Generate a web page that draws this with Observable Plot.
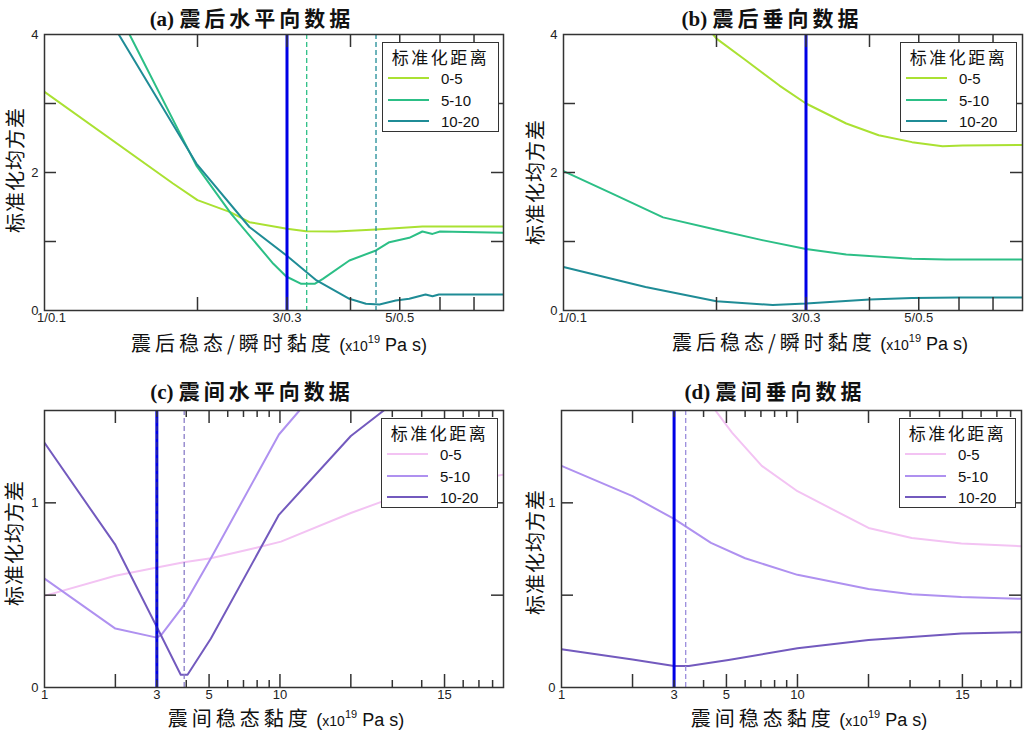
<!DOCTYPE html>
<html><head><meta charset="utf-8">
<script src="https://cdn.jsdelivr.net/npm/d3@7"></script>
<script src="https://cdn.jsdelivr.net/npm/@observablehq/plot@0.6"></script>
<style>
body{margin:0;background:#fff;}
#root{position:relative;width:1024px;height:733px;overflow:hidden;background:#fff;}
.panel{position:absolute;}
.title{position:absolute;white-space:nowrap;transform:translate(-50%,-50%);font-family:"Liberation Serif","Noto Sans CJK SC",serif;font-weight:bold;font-size:21px;line-height:22px;color:#111;}
.title .zh{font-family:"Noto Sans CJK SC",sans-serif;letter-spacing:4px;}
.xlab{position:absolute;white-space:nowrap;transform:translate(-50%,-50%);font-family:"Noto Sans CJK SC",sans-serif;font-size:20px;line-height:16px;color:#111;}
.xlab .zh{letter-spacing:4px;}
.xlab .u{font-family:"Liberation Sans",Arial,sans-serif;font-size:18px;}
.xlab .s{font-size:14px;}
.xlab sup{font-size:11px;vertical-align:8px;line-height:0;}
.ylab{position:absolute;white-space:nowrap;transform:translate(-50%,-50%) rotate(-90deg);font-family:"Noto Sans CJK SC",sans-serif;font-size:20px;line-height:20px;letter-spacing:1px;color:#111;}
.legend{position:absolute;width:115px;height:88px;border:1.5px solid #333;background:#fff;}
.legend .lt{position:absolute;left:0;width:100%;text-align:center;top:13px;transform:translateY(-50%);font-family:"Noto Sans CJK SC",sans-serif;font-size:17px;letter-spacing:2.5px;color:#111;}
.legend .ll{position:absolute;left:58px;transform:translateY(-50%);font-family:"Liberation Sans",Arial,sans-serif;font-size:15px;color:#111;}
.legend svg{position:absolute;left:5px;}
</style></head><body><div id="root"></div>
<script>
// ---------- shared labels / ticks ----------
const seriesNames = ["0-5", "5-10", "10-20"];
const greenColors = ["#aae132", "#2cbf86", "#1f8c96"];
const purpleColors = ["#f3c3f3", "#af91f0", "#735abe"];
const topTickValues = [1, 3, 5];
const topTickLabels = ["1/0.1", "3/0.3", "5/0.5"];
const topMarkTicks = [2, 3, 4, 5, 6, 7];
const botTickValues = [1, 3, 5, 10, 50];
const botTickLabels = ["1", "3", "5", "10", "15"];
const botMajorTicks = [2, 5, 10, 20, 50];
const botMinorTicks = [3, 4, 6, 7, 8, 9, 30, 40, 60, 70, 80];
const topYTicks = [1, 2, 3];
const topYLabels = [0, 2, 4];
const botYTicks = [0.5, 1];
const botYLabels = [0, 1];

// ---------- panel (a) ----------
const aX0 = [1, 1.79, 2, 2.32, 2.53, 3, 3.27, 3.75, 4.49, 5.54, 8];
const aY0 = [3.17, 1.84, 1.60, 1.425, 1.28, 1.184, 1.15, 1.145, 1.174, 1.217, 1.217];
const aX1 = [1.47, 1.99, 2.33, 2.82, 2.99, 3.2, 3.4, 3.53, 3.98, 4.49, 4.77, 5.22, 5.54, 5.8, 6.0, 8];
const aY1 = [4.0, 2.10, 1.40, 0.677, 0.493, 0.387, 0.387, 0.459, 0.725, 0.87, 0.99, 1.053, 1.145, 1.11, 1.145, 1.126];
const aX2 = [1.4, 1.99, 2.53, 2.99, 3.43, 3.98, 4.29, 4.56, 4.91, 5.22, 5.62, 5.8, 5.97, 8];
const aY2 = [4.0, 2.13, 1.21, 0.80, 0.435, 0.17, 0.097, 0.087, 0.145, 0.17, 0.232, 0.207, 0.232, 0.232];
const aDashX = [3.28, 4.49];

// ---------- panel (b) ----------
const bX0 = [1.97, 2, 2.28, 2.66, 3, 3.6, 4.17, 4.85, 5.57, 6.1, 8];
const bY0 = [4.0, 3.94, 3.63, 3.26, 3.0, 2.71, 2.54, 2.44, 2.38, 2.39, 2.40];
const bX1 = [1, 1.25, 1.57, 2, 2.46, 3, 3.6, 4.85, 5.66, 8];
const bY1 = [2.02, 1.69, 1.35, 1.17, 1.02, 0.89, 0.81, 0.75, 0.74, 0.74];
const bX2 = [1, 1.45, 2, 2.58, 3, 4, 4.85, 6, 8];
const bY2 = [0.63, 0.34, 0.135, 0.08, 0.10, 0.16, 0.18, 0.19, 0.19];

// ---------- panel (c) ----------
const cX0 = [1, 2, 3, 3.91, 5.09, 7.78, 10.1, 20, 30, 45, 90];
const cY0 = [0.496, 0.605, 0.65, 0.678, 0.70, 0.754, 0.79, 0.945, 1.027, 1.09, 1.154];
const cX1 = [1, 2, 3, 3.14, 3.91, 5.09, 9.9, 12.1];
const cY1 = [0.59, 0.319, 0.27, 0.286, 0.446, 0.70, 1.37, 1.5];
const cX2 = [1, 2, 3, 3.79, 4.05, 5.09, 9.9, 20, 27.6];
const cY2 = [1.325, 0.772, 0.328, 0.069, 0.069, 0.265, 0.935, 1.362, 1.5];
const cDashX = [3, 3.92];

// ---------- panel (d) ----------
const dX0 = [4.49, 5.28, 7.06, 10, 20, 30.5, 49.5, 89];
const dY0 = [1.5, 1.38, 1.2, 1.063, 0.864, 0.81, 0.78, 0.765];
const dX1 = [1, 2, 3, 4.3, 6, 10, 20, 30.5, 49.5, 89];
const dY1 = [1.2, 1.036, 0.913, 0.783, 0.70, 0.61, 0.533, 0.505, 0.49, 0.48];
const dX2 = [1, 2, 3, 3.46, 5.1, 10, 20, 49.5, 89];
const dY2 = [0.207, 0.152, 0.116, 0.116, 0.149, 0.212, 0.257, 0.293, 0.299];
const dDashX = [3.36];

const blueX = 3;
const BLUE = "#0000e6";
const INK = "#333";

const root = document.getElementById("root");

function makePanel(cfg) {
  const pw = cfg.width - cfg.ml - cfg.mr, ph = cfg.height - cfg.mt - cfg.mb;
  const marks = [];
  cfg.series.forEach(s => {
    marks.push(Plot.line(d3.zip(s.x, s.y), {x: d => d[0], y: d => d[1], stroke: s.c, strokeWidth: 2, clip: true}));
  });
  marks.push(Plot.ruleX([blueX], {x: d => d, stroke: BLUE, strokeWidth: 3}));
  cfg.dashes.forEach(dd => {
    marks.push(Plot.ruleX([dd.x], {x: d => d, stroke: dd.c, strokeWidth: 1.3, strokeDasharray: "5,3"}));
  });
  // inward x ticks (bottom & top)
  marks.push(Plot.ruleX(cfg.major, {x: d => d, insetTop: ph - 13, stroke: INK, strokeWidth: 1.5}));
  marks.push(Plot.ruleX(cfg.major, {x: d => d, insetBottom: ph - 13, stroke: INK, strokeWidth: 1.5}));
  if (cfg.minor.length) {
    marks.push(Plot.ruleX(cfg.minor, {x: d => d, insetTop: ph - 7, stroke: INK, strokeWidth: 1.5}));
    marks.push(Plot.ruleX(cfg.minor, {x: d => d, insetBottom: ph - 7, stroke: INK, strokeWidth: 1.5}));
  }
  // inward y ticks (left & right)
  marks.push(Plot.ruleY(cfg.yTicks, {y: d => d, insetRight: pw - 12, stroke: INK, strokeWidth: 1.5}));
  marks.push(Plot.ruleY(cfg.yTicks, {y: d => d, insetLeft: pw - 12, stroke: INK, strokeWidth: 1.5}));
  marks.push(Plot.frame({stroke: INK, strokeWidth: 1.5}));
  // tick labels
  const fmt = d => cfg.xLabels[cfg.xVals.indexOf(d)];
  marks.push(Plot.text([cfg.xVals[0]], {x: d => d, text: fmt, frameAnchor: "bottom", lineAnchor: "top", dy: 2, dx: cfg.firstDx, fontSize: 13, fill: "#222"}));
  marks.push(Plot.text(cfg.xVals.slice(1), {x: d => d, text: fmt, frameAnchor: "bottom", lineAnchor: "top", dy: 2, fontSize: 13, fill: "#222"}));
  marks.push(Plot.text(cfg.yVals, {y: d => d, text: d => String(d), frameAnchor: "left", textAnchor: "end", dx: -6, fontSize: 13, fill: "#222"}));
  const svg = Plot.plot({
    width: cfg.width, height: cfg.height,
    marginLeft: cfg.ml, marginRight: cfg.mr, marginTop: cfg.mt, marginBottom: cfg.mb,
    x: {type: "log", domain: cfg.xDomain, axis: null},
    y: {domain: cfg.yDomain, axis: null},
    style: {fontFamily: "Liberation Sans, Arial, sans-serif", fontSize: "13px", color: "#222", background: "transparent", overflow: "visible"},
    marks
  });
  svg.classList.add("panel");
  svg.style.left = cfg.left + "px";
  svg.style.top = cfg.top + "px";
  root.appendChild(svg);
}

function addDiv(cls, html, x, y) {
  const d = document.createElement("div");
  d.className = cls;
  d.innerHTML = html;
  d.style.left = x + "px";
  d.style.top = y + "px";
  root.appendChild(d);
}

function legend(x, y, colors) {
  const d = document.createElement("div");
  d.className = "legend";
  d.style.left = x + "px";
  d.style.top = y + "px";
  let h = `<div class="lt">标准化距离</div>`;
  const rows = [35, 56.5, 77.5];
  seriesNames.forEach((n, i) => {
    h += `<svg width="42" height="6" style="top:${rows[i] - 3}px"><line x1="0" x2="41" y1="3" y2="3" stroke="${colors[i]}" stroke-width="2"/></svg>`;
    h += `<div class="ll" style="top:${rows[i]}px">${n}</div>`;
  });
  d.innerHTML = h;
  root.appendChild(d);
}

const ser = (xs, ys, cols) => xs.map((x, i) => ({x, y: ys[i], c: cols[i]}));

makePanel({
  left: 0, top: 0, width: 512, height: 366, ml: 44, mr: 9, mt: 34, mb: 56,
  xDomain: [1, 8], yDomain: [0, 4],
  series: ser([aX0, aX1, aX2], [aY0, aY1, aY2], greenColors),
  dashes: [{x: aDashX[0], c: greenColors[1]}, {x: aDashX[1], c: greenColors[2]}],
  major: topMarkTicks, minor: [], yTicks: topYTicks, yVals: topYLabels,
  xVals: topTickValues, xLabels: topTickLabels, firstDx: 7
});
makePanel({
  left: 512, top: 0, width: 512, height: 366, ml: 51, mr: 2, mt: 34, mb: 56,
  xDomain: [1, 8], yDomain: [0, 4],
  series: ser([bX0, bX1, bX2], [bY0, bY1, bY2], greenColors),
  dashes: [],
  major: topMarkTicks, minor: [], yTicks: topYTicks, yVals: topYLabels,
  xVals: topTickValues, xLabels: topTickLabels, firstDx: 9
});
makePanel({
  left: 0, top: 366, width: 512, height: 367, ml: 44, mr: 9, mt: 44, mb: 46,
  xDomain: [1, 89], yDomain: [0, 1.5],
  series: ser([cX0, cX1, cX2], [cY0, cY1, cY2], purpleColors),
  dashes: [{x: cDashX[0], c: "#2a2a9a"}, {x: cDashX[1], c: "#8a7cc8"}],
  major: botMajorTicks, minor: botMinorTicks, yTicks: botYTicks, yVals: botYLabels,
  xVals: botTickValues, xLabels: botTickLabels, firstDx: 0
});
makePanel({
  left: 512, top: 366, width: 512, height: 367, ml: 49, mr: 3, mt: 44, mb: 46,
  xDomain: [1, 89], yDomain: [0, 1.5],
  series: ser([dX0, dX1, dX2], [dY0, dY1, dY2], purpleColors),
  dashes: [{x: dDashX[0], c: "#9a8cdc"}],
  major: botMajorTicks, minor: botMinorTicks, yTicks: botYTicks, yVals: botYLabels,
  xVals: botTickValues, xLabels: botTickLabels, firstDx: 0
});

// titles
addDiv("title", `(a) <span class="zh">震后水平向数据</span>`, 252, 18);
addDiv("title", `(b) <span class="zh">震后垂向数据</span>`, 772, 18);
addDiv("title", `(c) <span class="zh">震间水平向数据</span>`, 252, 391);
addDiv("title", `(d) <span class="zh">震间垂向数据</span>`, 775, 391);

// x labels
const xl1 = `<span class="zh">震后稳态/瞬时黏度</span> <span class="u">(<span class="s">x10</span><sup>19</sup> Pa s)</span>`;
const xl2 = `<span class="zh">震间稳态黏度</span> <span class="u">(<span class="s">x10</span><sup>19</sup> Pa s)</span>`;
addDiv("xlab", xl1, 279, 344);
addDiv("xlab", xl1, 820, 343);
addDiv("xlab", xl2, 286, 719);
addDiv("xlab", xl2, 809, 719);

// y labels
const yl = "标准化均方差";
addDiv("ylab", yl, 15, 170);
addDiv("ylab", yl, 535, 182);
addDiv("ylab", yl, 14, 543);
addDiv("ylab", yl, 535, 552);

// legends
legend(382, 42, greenColors);
legend(900, 42, greenColors);
legend(381, 418, purpleColors);
legend(899, 418, purpleColors);
</script></body></html>
